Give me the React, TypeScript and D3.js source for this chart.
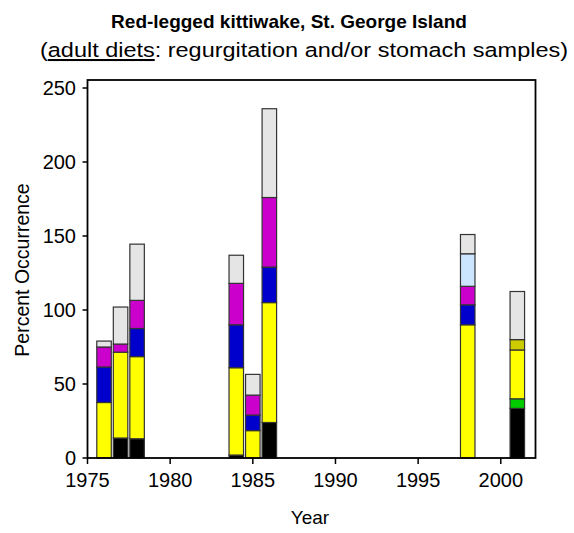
import React from "react";
import * as d3 from "d3";

const years = [1976, 1977, 1978, 1984, 1985, 1986, 1998, 2001];
const blackVals = [0, 13.5, 13, 2, 0, 24, 0, 33.5];
const greenVals = [0, 0, 0, 0, 0, 0, 0, 6.5];
const yellowVals = [37.5, 58, 55.5, 59, 18.5, 81, 90, 33];
const blueVals = [24, 0, 19, 29, 10.5, 24, 13.5, 0];
const magentaVals = [13.5, 5.5, 19, 28, 13.5, 47, 12.5, 0];
const lightBlueVals = [0, 0, 0, 0, 0, 0, 22, 0];
const oliveVals = [0, 0, 0, 0, 0, 0, 0, 7];
const grayVals = [4, 25, 38, 19, 14, 60, 13, 32.5];

const seriesKeys = ["black", "green", "yellow", "blue", "magenta", "lightBlue", "olive", "gray"];
const seriesColors = ["#000000", "#00CC00", "#FFFF00", "#0000CC", "#CC00CC", "#CCE6FF", "#CCCC00", "#E5E5E5"];
const seriesValues = [blackVals, greenVals, yellowVals, blueVals, magentaVals, lightBlueVals, oliveVals, grayVals];

const yTicks = [0, 50, 100, 150, 200, 250];
const xTicks = [1975, 1980, 1985, 1990, 1995, 2000];

export default function App() {
  const W = 574, H = 533;
  const left = 87.5, right = 535.5, top = 80, bottom = 458;
  const x = d3.scaleLinear().domain([1975, 2002.1]).range([left, right]);
  const y = d3.scaleLinear().domain([0, 250]).range([bottom, 88]);
  const table = years.map((yr, i) => {
    const row: any = { year: yr };
    seriesKeys.forEach((k, j) => (row[k] = seriesValues[j][i]));
    return row;
  });
  const stacked = d3.stack().keys(seriesKeys)(table);
  const bw = 14.5;
  const font = "Arial, 'Liberation Sans', sans-serif";

  return (
    <svg width={W} height={H} style={{ position: "absolute", left: 0, top: 0, background: "#fff" }}>
      <text x={289} y={28} textAnchor="middle" fontFamily={font} fontSize={19} fontWeight="bold">
        Red-legged kittiwake, St. George Island
      </text>
      <text x={304} y={57} textAnchor="middle" fontFamily={font} fontSize={20.5} textLength={528} lengthAdjust="spacingAndGlyphs">
        (<tspan textDecoration="underline">adult diets</tspan>: regurgitation and/or stomach samples)
      </text>
      {stacked.map((s, si) =>
        s.map((d, i) => {
          const h = y(d[0]) - y(d[1]);
          if (h <= 0) return null;
          return (
            <rect
              key={si + "-" + i}
              x={x(years[i]) - bw / 2}
              y={y(d[1])}
              width={bw}
              height={h}
              fill={seriesColors[si]}
              stroke="#333"
              strokeWidth={1.2}
            />
          );
        })
      )}
      <rect x={left} y={top} width={right - left} height={bottom - top} fill="none" stroke="#000" strokeWidth={1.8} />
      {yTicks.map((t) => (
        <g key={"y" + t}>
          <line x1={left - 5} x2={left} y1={y(t)} y2={y(t)} stroke="#000" strokeWidth={1.5} />
          <text x={76} y={y(t)} dy="0.36em" textAnchor="end" fontFamily={font} fontSize={20}>
            {t}
          </text>
        </g>
      ))}
      {xTicks.map((t) => (
        <g key={"x" + t}>
          <line x1={x(t)} x2={x(t)} y1={bottom} y2={bottom + 6} stroke="#000" strokeWidth={1.5} />
          <text x={x(t)} y={487} textAnchor="middle" fontFamily={font} fontSize={20}>
            {t}
          </text>
        </g>
      ))}
      <text x={310} y={524} textAnchor="middle" fontFamily={font} fontSize={19}>
        Year
      </text>
      <text
        transform={`translate(29,270) rotate(-90)`}
        textAnchor="middle"
        fontFamily={font}
        fontSize={19.5}
      >
        Percent Occurrence
      </text>
    </svg>
  );
}
